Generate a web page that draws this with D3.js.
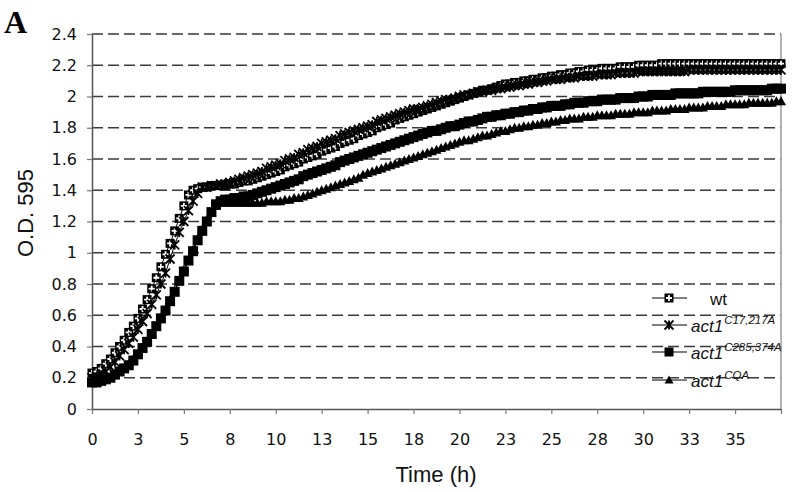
<!DOCTYPE html>
<html>
<head>
<meta charset="utf-8">
<script src="https://cdn.jsdelivr.net/npm/d3@7"></script>
<style>
  body { margin: 0; background: #fff; }
  svg { display: block; }
</style>
</head>
<body>
<div id="chart"></div>
<script>
var width = 795;
var height = 492;

// plate reader readings, one every 15 min (category axis, like Excel)
var STEP_H = 0.25;

var wt = [
  0.23,0.24,0.26,0.29, 0.32,0.36,0.40,0.44, 0.49,0.53,0.58,0.64, 0.70,0.77,0.84,0.91,
  0.99,1.06,1.14,1.22, 1.30,1.37,1.40,1.41, 1.42,1.42,1.43,1.43, 1.43,1.43,1.44,1.44,
  1.45,1.46,1.46,1.47, 1.48,1.49,1.50,1.51, 1.52,1.53,1.55,1.56, 1.57,1.58,1.60,1.61,
  1.62,1.63,1.65,1.66, 1.67,1.68,1.70,1.71, 1.72,1.73,1.75,1.76, 1.77,1.78,1.80,1.81,
  1.82,1.83,1.85,1.86, 1.87,1.88,1.89,1.90, 1.91,1.92,1.93,1.94, 1.95,1.96,1.97,1.98,
  1.99,2.00,2.01,2.02, 2.03,2.04,2.04,2.05, 2.06,2.07,2.08,2.08, 2.09,2.09,2.10,2.10,
  2.11,2.11,2.12,2.12, 2.13,2.13,2.14,2.14, 2.15,2.15,2.16,2.16, 2.17,2.17,2.17,2.18,
  2.18,2.18,2.18,2.19, 2.19,2.19,2.19,2.20, 2.20,2.20,2.20,2.20, 2.21,2.21,2.21,2.21,
  2.21,2.21,2.21,2.21, 2.21,2.21,2.21,2.21, 2.21,2.21,2.21,2.21, 2.21,2.21,2.21,2.21,
  2.21,2.21,2.21,2.21, 2.21,2.21,2.21
];

var c17 = [
  0.20,0.21,0.22,0.24, 0.27,0.30,0.34,0.38, 0.42,0.46,0.51,0.56, 0.61,0.67,0.73,0.80,
  0.87,0.96,1.05,1.13, 1.20,1.27,1.33,1.38, 1.42,1.42,1.43,1.43, 1.44,1.44,1.45,1.46,
  1.47,1.48,1.49,1.50, 1.51,1.52,1.54,1.55, 1.56,1.57,1.59,1.60, 1.61,1.63,1.64,1.66,
  1.67,1.68,1.70,1.71, 1.72,1.73,1.75,1.76, 1.77,1.78,1.79,1.80, 1.81,1.82,1.84,1.85,
  1.86,1.87,1.88,1.89, 1.90,1.91,1.92,1.92, 1.93,1.94,1.95,1.96, 1.97,1.98,1.98,1.99,
  2.00,2.01,2.01,2.02, 2.03,2.03,2.04,2.04, 2.05,2.05,2.06,2.06, 2.07,2.07,2.08,2.08,
  2.09,2.09,2.10,2.10, 2.11,2.11,2.11,2.12, 2.12,2.12,2.13,2.13, 2.13,2.13,2.14,2.14,
  2.14,2.14,2.15,2.15, 2.15,2.15,2.15,2.16, 2.16,2.16,2.16,2.16, 2.16,2.16,2.16,2.16,
  2.16,2.16,2.17,2.17, 2.17,2.17,2.17,2.17, 2.17,2.17,2.17,2.17, 2.17,2.17,2.17,2.17,
  2.17,2.17,2.17,2.17, 2.17,2.17,2.17
];

var c285 = [
  0.17,0.17,0.18,0.19, 0.20,0.22,0.24,0.26, 0.28,0.31,0.35,0.39, 0.43,0.48,0.53,0.58,
  0.63,0.69,0.75,0.82, 0.88,0.95,1.01,1.08, 1.14,1.20,1.26,1.31, 1.33,1.34,1.34,1.35,
  1.35,1.36,1.36,1.37, 1.38,1.39,1.40,1.41, 1.42,1.43,1.44,1.45, 1.46,1.47,1.49,1.50,
  1.51,1.52,1.53,1.54, 1.55,1.56,1.58,1.59, 1.60,1.61,1.62,1.63, 1.64,1.65,1.66,1.67,
  1.68,1.69,1.70,1.71, 1.72,1.73,1.74,1.75, 1.76,1.77,1.78,1.78, 1.79,1.80,1.81,1.81,
  1.82,1.83,1.84,1.84, 1.85,1.86,1.87,1.87, 1.88,1.88,1.89,1.89, 1.90,1.90,1.91,1.91,
  1.92,1.92,1.93,1.93, 1.94,1.94,1.94,1.95, 1.95,1.96,1.96,1.96, 1.97,1.97,1.97,1.98,
  1.98,1.98,1.98,1.99, 1.99,1.99,1.99,2.00, 2.00,2.00,2.01,2.01, 2.01,2.01,2.01,2.02,
  2.02,2.02,2.02,2.02, 2.02,2.03,2.03,2.03, 2.03,2.03,2.03,2.03, 2.04,2.04,2.04,2.04,
  2.04,2.04,2.04,2.04, 2.05,2.05,2.05
];

var cqa = [
  0.17,0.18,0.18,0.19, 0.20,0.22,0.24,0.26, 0.29,0.32,0.35,0.39, 0.43,0.48,0.53,0.58,
  0.64,0.70,0.76,0.82, 0.89,0.96,1.02,1.09, 1.15,1.21,1.26,1.30, 1.32,1.32,1.32,1.32,
  1.32,1.32,1.32,1.32, 1.32,1.32,1.33,1.33, 1.33,1.33,1.34,1.34, 1.35,1.35,1.36,1.37,
  1.38,1.39,1.40,1.41, 1.42,1.43,1.44,1.45, 1.46,1.47,1.48,1.50, 1.51,1.52,1.53,1.54,
  1.55,1.56,1.57,1.58, 1.59,1.60,1.61,1.62, 1.63,1.64,1.65,1.66, 1.67,1.68,1.69,1.70,
  1.71,1.72,1.72,1.73, 1.74,1.75,1.75,1.76, 1.77,1.78,1.78,1.79, 1.80,1.80,1.81,1.81,
  1.82,1.82,1.83,1.83, 1.84,1.84,1.85,1.85, 1.86,1.86,1.86,1.87, 1.87,1.87,1.88,1.88,
  1.88,1.88,1.89,1.89, 1.89,1.89,1.90,1.90, 1.90,1.90,1.91,1.91, 1.91,1.91,1.92,1.92,
  1.92,1.92,1.93,1.93, 1.93,1.93,1.94,1.94, 1.94,1.94,1.95,1.95, 1.95,1.95,1.95,1.96,
  1.96,1.96,1.96,1.96, 1.96,1.97,1.97
];

var seriesNames = ["wt", "act1", "act1", "act1"];
var seriesSup = ["", "C17,217A", "C285,374A", "CQA"];
var seriesMarkers = ["crossSquare", "star", "square", "triangle"];

var yTicks = [0, 0.2, 0.4, 0.6, 0.8, 1, 1.2, 1.4, 1.6, 1.8, 2, 2.2, 2.4];
var yTickLabels = ["0","0.2","0.4","0.6","0.8","1","1.2","1.4","1.6","1.8","2","2.2","2.4"];
var xTicks = [0, 2.5, 5, 7.5, 10, 12.5, 15, 17.5, 20, 22.5, 25, 27.5, 30, 32.5, 35, 37.5];
var xTickLabels = ["0","3","5","8","10","13","15","18","20","23","25","28","30","33","35",""];

var svg = d3.select("#chart").append("svg").attr("width", width).attr("height", height);

var x = d3.scaleLinear().domain([0, 37.5]).range([92, 781]);
var y = d3.scaleLinear().domain([0, 2.4]).range([409, 34]);

// dashed gridlines
svg.append("g").selectAll("line")
  .data(yTicks.filter(function(d){ return d > 0; }))
  .enter().append("line")
    .attr("x1", x(0)).attr("x2", x(37.5))
    .attr("y1", function(d){ return y(d); }).attr("y2", function(d){ return y(d); })
    .attr("stroke", "#3a3a3a").attr("stroke-width", 1.6)
    .attr("stroke-dasharray", "11,5");

// right border of the plot area
svg.append("line")
  .attr("x1", x(37.5)).attr("x2", x(37.5)).attr("y1", y(2.4)).attr("y2", y(0))
  .attr("stroke", "#999").attr("stroke-width", 1.5);

var yAxis = svg.append("g").attr("transform", "translate(" + x(0) + ",0)")
  .call(d3.axisLeft(y).tickValues(yTicks).tickSize(5).tickSizeOuter(0).tickPadding(10)
    .tickFormat(function(d, i){ return yTickLabels[i]; }));
var xAxis = svg.append("g").attr("transform", "translate(0," + y(0) + ")")
  .call(d3.axisBottom(x).tickValues(xTicks).tickSize(5).tickSizeOuter(0).tickPadding(20)
    .tickFormat(function(d, i){ return xTickLabels[i]; }));

[yAxis, xAxis].forEach(function(a){
  a.selectAll("path").attr("stroke", "#555").attr("stroke-width", 1.5);
  a.selectAll("line").attr("stroke", "#777").attr("stroke-width", 1.2);
  a.selectAll("text").attr("font-family", "'DejaVu Sans', Verdana, sans-serif")
    .attr("font-size", 16).attr("fill", "#111");
});

function drawMarker(g, kind, cx, cy, s) {
  var h = s / 2;
  if (kind == "square") {
    g.append("rect").attr("x", cx - h).attr("y", cy - h).attr("width", s).attr("height", s).attr("fill", "#000");
  }
  if (kind == "crossSquare") {
    g.append("rect").attr("x", cx - h).attr("y", cy - h).attr("width", s).attr("height", s).attr("fill", "#000");
    g.append("path").attr("d", "M" + cx + "," + (cy - h + 1.5) + "V" + (cy + h - 1.5) +
        "M" + (cx - h + 1.5) + "," + cy + "H" + (cx + h - 1.5))
      .attr("stroke", "#fff").attr("stroke-width", 1.8);
  }
  if (kind == "triangle") {
    g.append("path").attr("d", "M" + cx + "," + (cy - h) + "L" + (cx + h) + "," + (cy + h * 0.8) +
        "L" + (cx - h) + "," + (cy + h * 0.8) + "Z").attr("fill", "#000");
  }
  if (kind == "star") {
    g.append("path").attr("d", "M" + (cx - h) + "," + (cy - h) + "L" + (cx + h) + "," + (cy + h) +
        "M" + (cx + h) + "," + (cy - h) + "L" + (cx - h) + "," + (cy + h) +
        "M" + cx + "," + (cy - h) + "V" + (cy + h))
      .attr("stroke", "#000").attr("stroke-width", 1.8);
  }
}

var line = d3.line()
  .x(function(d, i){ return x(i * STEP_H); })
  .y(function(d){ return y(d); });

var allSeries = [wt, c17, c285, cqa];
var markerSize = [9, 9, 10, 10];

allSeries.forEach(function(vals, k){
  var g = svg.append("g").attr("class", "series");
  g.append("path").datum(vals).attr("d", line)
    .attr("fill", "none").attr("stroke", "#000").attr("stroke-width", 1);
  vals.forEach(function(v, i){
    drawMarker(g, seriesMarkers[k], x(i * STEP_H), y(v), markerSize[k]);
  });
});

// legend
var legendY = [298, 325, 352, 380];
var legend = svg.append("g").attr("class", "legend");
seriesNames.forEach(function(name, k){
  var ly = legendY[k];
  legend.append("line").attr("x1", 652).attr("x2", 687).attr("y1", ly).attr("y2", ly)
    .attr("stroke", "#000").attr("stroke-width", 1.2);
  drawMarker(legend, seriesMarkers[k], 669, ly, 9);
  var t = legend.append("text")
    .attr("x", k == 0 ? 710 : 691).attr("y", ly + 7)
    .attr("font-family", "'Liberation Sans', Arial, sans-serif")
    .attr("font-size", 17).attr("fill", "#111");
  if (k == 0) {
    t.text(name);
  } else {
    t.attr("font-style", "italic");
    t.append("tspan").text(name);
    t.append("tspan").attr("dx", 1).attr("dy", -8).attr("font-size", 11.5).text(seriesSup[k]);
  }
});

// axis titles
svg.append("text")
  .attr("x", 436).attr("y", 482).attr("text-anchor", "middle")
  .attr("font-family", "'Liberation Sans', Arial, sans-serif").attr("font-size", 22)
  .attr("fill", "#111").text("Time (h)");
svg.append("text")
  .attr("transform", "translate(33,213) rotate(-90)").attr("text-anchor", "middle")
  .attr("font-family", "'Liberation Sans', Arial, sans-serif").attr("font-size", 22)
  .attr("fill", "#111").text("O.D. 595");

// panel letter
svg.append("text").attr("x", 4).attr("y", 33)
  .attr("font-family", "'Liberation Serif', 'Times New Roman', serif")
  .attr("font-weight", "bold").attr("font-size", 32).attr("fill", "#000").text("A");
</script>
</body>
</html>
